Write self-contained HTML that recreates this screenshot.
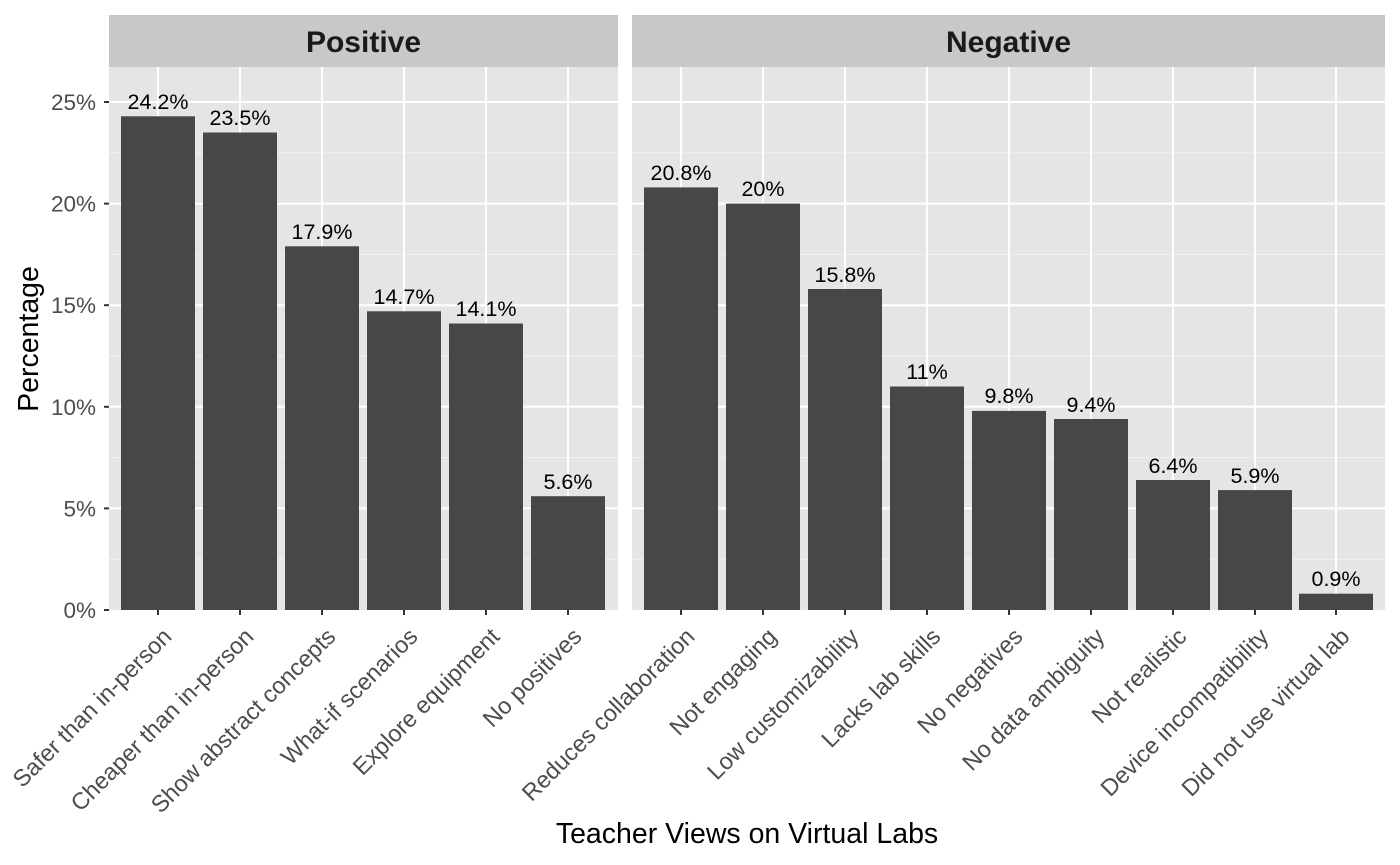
<!DOCTYPE html>
<html><head><meta charset="utf-8"><style>body{margin:0;background:#fff}svg{display:block}text{font-family:"Liberation Sans",Arial,sans-serif}</style></head><body>
<svg width="1400" height="865" xmlns="http://www.w3.org/2000/svg">
<rect width="1400" height="865" fill="#fff"/>
<rect x="109" y="15" width="509" height="52" fill="#c8c8c8"/>
<text x="363.5" y="52" font-size="30" font-weight="bold" text-anchor="middle" fill="#1a1a1a">Positive</text>
<rect x="109" y="67" width="509" height="543" fill="#e5e5e5"/>
<rect x="632" y="15" width="753" height="52" fill="#c8c8c8"/>
<text x="1008.5" y="52" font-size="30" font-weight="bold" text-anchor="middle" fill="#1a1a1a">Negative</text>
<rect x="632" y="67" width="753" height="543" fill="#e5e5e5"/>
<g stroke="#f2f2f2" stroke-width="1">
<line x1="109" x2="618" y1="559.2" y2="559.2"/><line x1="109" x2="618" y1="457.6" y2="457.6"/><line x1="109" x2="618" y1="356" y2="356"/><line x1="109" x2="618" y1="254.4" y2="254.4"/><line x1="109" x2="618" y1="152.8" y2="152.8"/>
<line x1="632" x2="1385" y1="559.2" y2="559.2"/><line x1="632" x2="1385" y1="457.6" y2="457.6"/><line x1="632" x2="1385" y1="356" y2="356"/><line x1="632" x2="1385" y1="254.4" y2="254.4"/><line x1="632" x2="1385" y1="152.8" y2="152.8"/>
</g>
<g stroke="#fff" stroke-width="2">
<line x1="109" x2="618" y1="508.4" y2="508.4"/><line x1="109" x2="618" y1="406.8" y2="406.8"/><line x1="109" x2="618" y1="305.2" y2="305.2"/><line x1="109" x2="618" y1="203.6" y2="203.6"/><line x1="109" x2="618" y1="102" y2="102"/>
<line x1="632" x2="1385" y1="508.4" y2="508.4"/><line x1="632" x2="1385" y1="406.8" y2="406.8"/><line x1="632" x2="1385" y1="305.2" y2="305.2"/><line x1="632" x2="1385" y1="203.6" y2="203.6"/><line x1="632" x2="1385" y1="102" y2="102"/>
<line x1="158" x2="158" y1="67" y2="610"/><line x1="240" x2="240" y1="67" y2="610"/><line x1="322" x2="322" y1="67" y2="610"/><line x1="404" x2="404" y1="67" y2="610"/><line x1="486" x2="486" y1="67" y2="610"/><line x1="568" x2="568" y1="67" y2="610"/>
<line x1="681" x2="681" y1="67" y2="610"/><line x1="763" x2="763" y1="67" y2="610"/><line x1="845" x2="845" y1="67" y2="610"/><line x1="927" x2="927" y1="67" y2="610"/><line x1="1009" x2="1009" y1="67" y2="610"/><line x1="1091" x2="1091" y1="67" y2="610"/><line x1="1173" x2="1173" y1="67" y2="610"/><line x1="1255" x2="1255" y1="67" y2="610"/><line x1="1336" x2="1336" y1="67" y2="610"/>
</g>
<g fill="#474747">
<rect x="121" y="116.3" width="74" height="493.7"/>
<rect x="203" y="132.5" width="74" height="477.5"/>
<rect x="285" y="246.3" width="74" height="363.7"/>
<rect x="367" y="311.3" width="74" height="298.7"/>
<rect x="449" y="323.5" width="74" height="286.5"/>
<rect x="531" y="496.2" width="74" height="113.8"/>
<rect x="644" y="187.4" width="74" height="422.6"/>
<rect x="726" y="203.6" width="74" height="406.4"/>
<rect x="808" y="289" width="74" height="321"/>
<rect x="890" y="386.5" width="74" height="223.5"/>
<rect x="972" y="410.9" width="74" height="199.1"/>
<rect x="1054" y="419" width="74" height="191"/>
<rect x="1136" y="480" width="74" height="130"/>
<rect x="1218" y="490.1" width="74" height="119.9"/>
<rect x="1299" y="593.7" width="74" height="16.3"/>
</g>
<g font-size="21.5" text-anchor="middle" fill="#000">
<text x="158" y="109">24.2%</text><text x="240" y="125">23.5%</text><text x="322" y="239">17.9%</text><text x="404" y="304">14.7%</text><text x="486" y="316">14.1%</text><text x="568" y="489">5.6%</text>
<text x="681" y="180">20.8%</text><text x="763" y="196">20%</text><text x="845" y="282">15.8%</text><text x="927" y="379">11%</text><text x="1009" y="403">9.8%</text><text x="1091" y="412">9.4%</text><text x="1173" y="473">6.4%</text><text x="1255" y="483">5.9%</text><text x="1336" y="586">0.9%</text>
</g>
<g stroke="#333" stroke-width="2">
<line x1="104" x2="109" y1="610" y2="610"/><line x1="104" x2="109" y1="508.4" y2="508.4"/><line x1="104" x2="109" y1="406.8" y2="406.8"/><line x1="104" x2="109" y1="305.2" y2="305.2"/><line x1="104" x2="109" y1="203.6" y2="203.6"/><line x1="104" x2="109" y1="102" y2="102"/>
<line x1="158" x2="158" y1="610" y2="615"/><line x1="240" x2="240" y1="610" y2="615"/><line x1="322" x2="322" y1="610" y2="615"/><line x1="404" x2="404" y1="610" y2="615"/><line x1="486" x2="486" y1="610" y2="615"/><line x1="568" x2="568" y1="610" y2="615"/>
<line x1="681" x2="681" y1="610" y2="615"/><line x1="763" x2="763" y1="610" y2="615"/><line x1="845" x2="845" y1="610" y2="615"/><line x1="927" x2="927" y1="610" y2="615"/><line x1="1009" x2="1009" y1="610" y2="615"/><line x1="1091" x2="1091" y1="610" y2="615"/><line x1="1173" x2="1173" y1="610" y2="615"/><line x1="1255" x2="1255" y1="610" y2="615"/><line x1="1336" x2="1336" y1="610" y2="615"/>
</g>
<g font-size="22.5" text-anchor="end" fill="#4d4d4d">
<text x="96" y="618">0%</text><text x="96" y="516.4">5%</text><text x="96" y="414.8">10%</text><text x="96" y="313.2">15%</text><text x="96" y="211.6">20%</text><text x="96" y="110">25%</text>
</g>
<g font-size="23.5" text-anchor="end" fill="#4d4d4d">
<text transform="translate(173,638) rotate(-45)">Safer than in-person</text>
<text transform="translate(255,638) rotate(-45)">Cheaper than in-person</text>
<text transform="translate(337,638) rotate(-45)">Show abstract concepts</text>
<text transform="translate(419,638) rotate(-45)">What-if scenarios</text>
<text transform="translate(501,638) rotate(-45)">Explore equipment</text>
<text transform="translate(583,638) rotate(-45)">No positives</text>
<text transform="translate(696,638) rotate(-45)">Reduces collaboration</text>
<text transform="translate(778,638) rotate(-45)">Not engaging</text>
<text transform="translate(860,638) rotate(-45)">Low customizability</text>
<text transform="translate(942,638) rotate(-45)">Lacks lab skills</text>
<text transform="translate(1024,638) rotate(-45)">No negatives</text>
<text transform="translate(1106,638) rotate(-45)">No data ambiguity</text>
<text transform="translate(1188,638) rotate(-45)">Not realistic</text>
<text transform="translate(1270,638) rotate(-45)">Device incompatibility</text>
<text transform="translate(1351,638) rotate(-45)">Did not use virtual lab</text>
</g>
<text x="747" y="843" font-size="28.5" text-anchor="middle" fill="#000">Teacher Views on Virtual Labs</text>
<text transform="translate(38,339) rotate(-90)" font-size="28.5" text-anchor="middle" fill="#000">Percentage</text>
</svg>
</body></html>
